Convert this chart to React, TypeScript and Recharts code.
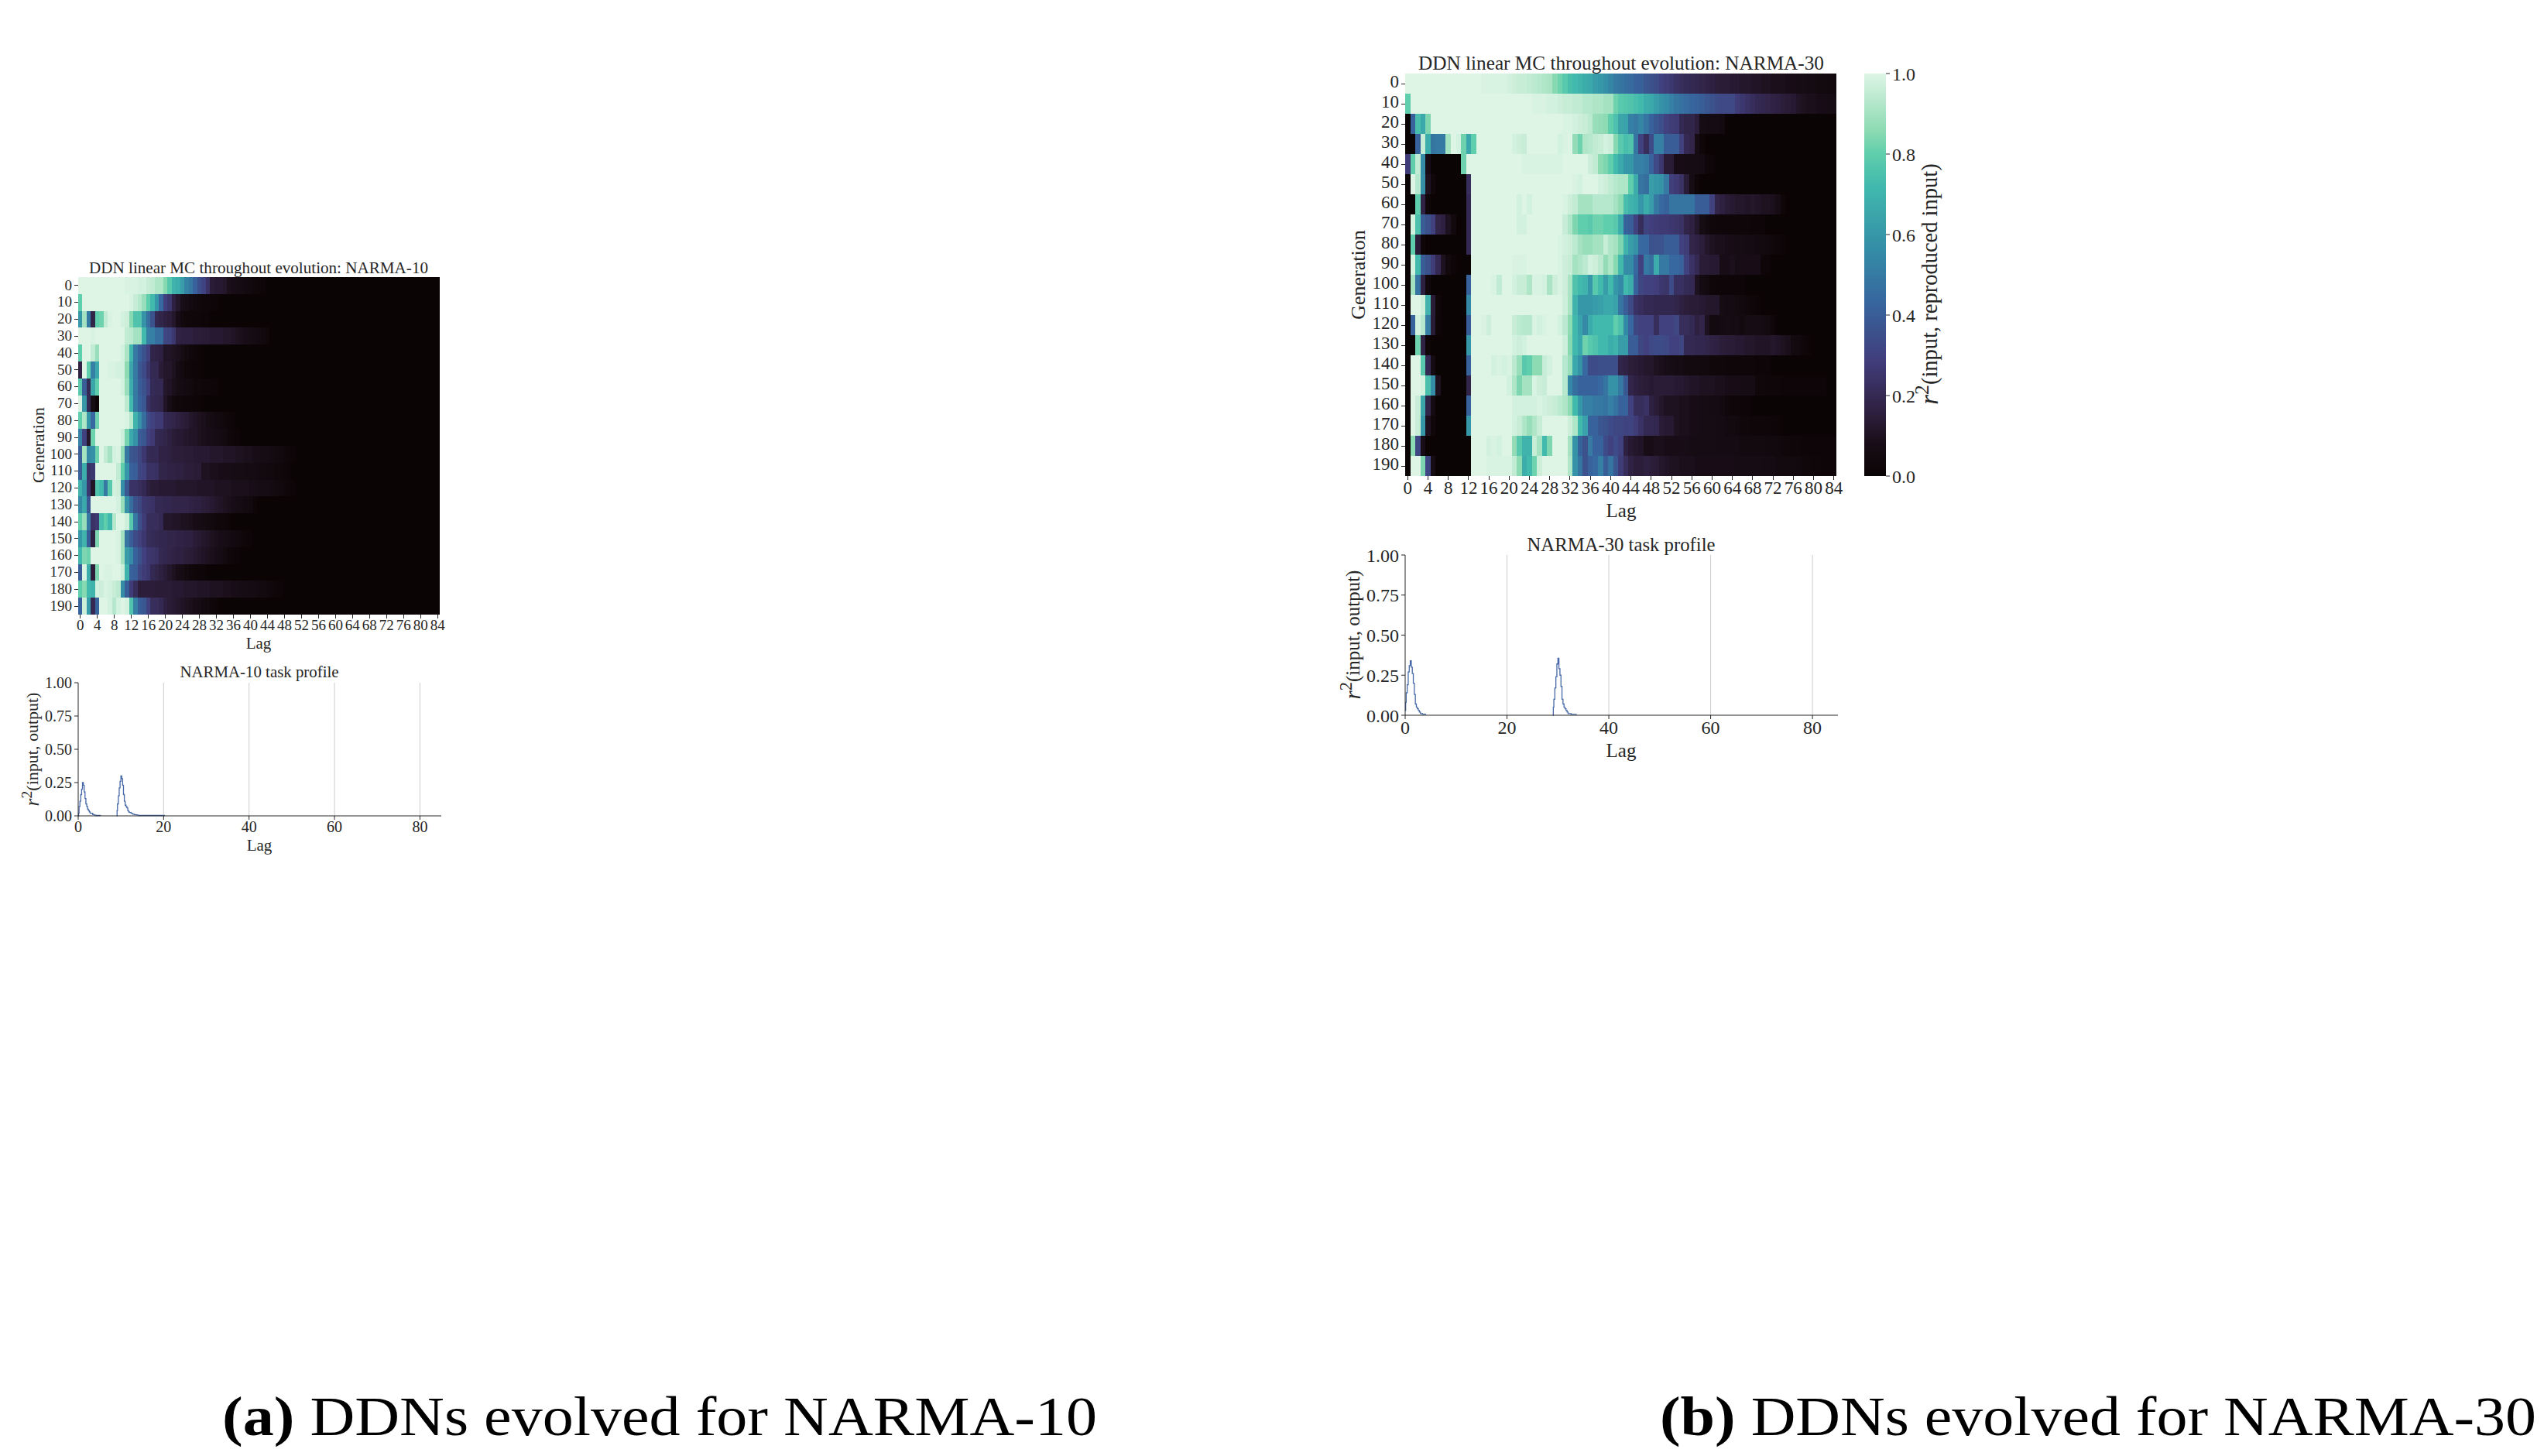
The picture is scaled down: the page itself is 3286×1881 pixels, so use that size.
import React from "react";
import { BarChart, Bar, Cell, XAxis, YAxis, LineChart, Line, ReferenceLine } from "recharts";

const FONT = "'Liberation Serif', serif";
const INK = "#262626";

const generations = [0, 10, 20, 30, 40, 50, 60, 70, 80, 90, 100, 110, 120, 130, 140, 150, 160, 170, 180, 190];
const heatTicks = [0, 4, 8, 12, 16, 20, 24, 28, 32, 36, 40, 44, 48, 52, 56, 60, 64, 68, 72, 76, 80, 84];

// r^2 in percent per lag; lags past the end of a list read as 0 (black)
const narma10Rows: number[][] = [
  [100,100,100,100,100,100,100,100,100,100,100,99,99,99,98,98,96,95,92,92,85,78,70,68,62,53,49,42,35,31,24,14,13,13,12,9,8,7,6,5,4,3,2,1],
  [80,100,100,100,100,100,100,100,100,100,100,100,99,96,93,88,80,72,60,44,30,26,16,12,8,7,5,4,3,2,2,1,1],
  [60,90,50,18,80,82,95,99,100,100,98,97,85,76,76,58,46,36,20,18,16,15,12,8,4,3,3,2,2,1,1],
  [100,100,100,99,100,100,100,100,100,100,100,95,94,90,90,72,52,52,46,46,32,31,26,17,16,16,16,15,15,14,14,13,13,13,12,12,11,10,9,8,7,6,5,4,3],
  [80,100,100,95,88,100,100,100,100,100,98,91,71,50,42,36,30,18,17,16,11,11,10,9,7,5,3,2,1],
  [17,100,80,52,66,100,100,99,99,98,98,86,65,50,38,34,26,20,20,14,12,12,10,6,5,3,2,1,1],
  [78,40,20,65,80,100,100,100,100,100,98,88,68,50,40,36,30,21,20,20,12,11,9,7,6,5,4,3,3,2,2,1,1],
  [99,60,20,7,1,100,100,100,100,100,100,94,72,50,42,38,24,20,19,18,11,8,4,3,3,2,2,1,1],
  [80,92,60,44,82,100,100,100,100,100,100,99,93,70,58,46,34,30,27,27,20,19,18,16,15,14,12,11,10,9,7,6,5,4,3,2,1],
  [52,30,12,82,100,100,100,100,100,100,97,83,66,58,40,38,30,27,20,19,18,16,14,13,13,12,11,11,10,9,8,8,7,6,5,3,2,1],
  [40,90,55,57,82,100,95,90,98,99,87,50,38,36,32,26,21,20,20,17,17,16,15,15,15,14,14,13,13,13,13,12,12,12,11,11,11,10,10,9,9,8,8,7,7,6,5,4,3,2,1],
  [40,68,24,26,100,100,100,100,100,95,80,60,42,40,32,30,24,24,23,18,18,17,17,16,16,15,15,14,14,10,10,9,9,8,8,8,7,7,7,6,6,6,5,5,4,4,3,3,2,1],
  [70,60,26,11,76,72,50,78,98,97,57,38,24,24,22,20,16,14,14,13,13,13,13,12,12,12,12,12,11,11,11,11,10,10,10,10,9,9,9,9,8,8,7,7,7,6,5,4,3,2,1],
  [55,66,38,100,100,100,100,100,100,98,88,58,46,36,32,26,25,24,20,20,19,19,18,18,18,18,17,16,16,15,14,13,12,11,10,9,8,7,6,5,4,2],
  [80,88,50,24,26,74,80,72,93,100,100,97,78,50,36,28,22,22,22,20,12,12,11,11,10,10,9,8,7,6,5,4,3,3,2,1],
  [60,70,40,16,84,100,100,100,100,99,90,48,40,34,30,26,22,21,20,19,19,18,18,17,17,16,16,14,13,12,11,10,9,8,7,6,5,4,3,2,1],
  [72,84,82,100,100,100,100,100,100,99,90,62,56,42,36,30,26,25,24,20,19,18,17,16,16,15,14,13,12,11,10,9,8,7,5,3,2,1],
  [40,99,68,15,84,100,99,99,100,100,97,70,42,40,32,28,26,20,18,16,14,12,10,8,7,5,3,2,1,1],
  [80,85,72,70,98,97,99,98,96,94,56,40,28,22,15,15,15,15,14,14,14,14,13,13,13,12,12,12,11,11,11,10,10,10,9,9,8,8,7,7,6,6,5,5,4,3,2,1],
  [42,97,62,20,42,100,100,98,93,98,100,98,76,52,40,38,30,22,22,20,16,14,13,12,11,10,9,8,7,5,4,2,1],
];

const narma30Rows: number[][] = [
  [100,100,100,100,100,100,100,100,100,100,100,100,100,100,100,99,99,99,99,99,98,97,96,96,95,94,93,92,91,85,82,78,74,72,70,68,66,62,60,57,54,50,48,46,45,42,41,38,36,34,30,28,26,24,22,21,20,19,18,17,16,15,14,14,13,13,12,12,11,11,10,10,9,9,9,8,8,7,7,6,6,5,5,4,4],
  [80,100,100,100,100,100,100,100,100,100,100,100,100,100,100,100,100,100,100,100,100,100,100,100,100,99,99,99,98,98,97,96,96,95,95,93,93,92,92,90,90,82,78,77,76,74,72,68,66,62,58,56,52,49,47,45,43,42,40,38,36,34,33,33,33,28,26,24,22,20,19,18,17,16,15,14,13,11,10,9,9,8,8,7,7],
  [0,42,74,66,84,100,100,100,100,100,100,100,100,100,100,100,100,100,100,100,100,100,100,100,100,100,100,100,100,100,100,99,99,98,97,96,94,88,87,86,80,75,65,64,52,50,54,48,42,38,35,30,28,27,20,18,18,15,7,6,6,6,5],
  [0,0,42,96,68,48,50,50,90,100,98,82,66,80,100,100,100,100,100,100,100,98,97,96,100,100,100,100,100,100,98,99,100,87,82,92,93,95,96,98,97,85,78,74,76,48,30,22,34,52,52,40,40,40,30,20,18,7,2],
  [28,80,95,56,8,0,0,0,0,0,0,82,100,100,100,100,100,100,100,100,100,100,100,99,99,99,99,99,99,99,99,100,100,100,100,100,97,95,86,84,80,72,66,60,60,52,52,50,42,33,26,14,14,8,8,7,7,7,6,2,1],
  [0,100,93,57,10,3,0,0,0,0,0,0,22,100,100,100,100,100,100,100,100,100,100,100,100,100,100,100,100,100,100,100,100,99,98,100,100,100,98,97,95,93,92,92,80,68,48,46,62,60,58,50,29,27,24,14,7,2],
  [0,0,80,17,3,0,0,0,0,0,0,0,20,100,100,100,100,100,100,100,100,100,98,100,98,100,100,100,100,100,100,99,97,95,90,90,90,93,93,93,93,90,86,74,70,68,60,68,62,50,44,42,48,48,48,48,48,40,40,40,30,18,16,14,13,12,12,11,12,11,10,10,9,7,2],
  [0,98,75,40,36,30,18,16,10,4,0,0,20,100,100,100,100,100,100,100,100,100,98,98,100,100,100,100,100,100,100,96,92,84,80,80,78,82,82,80,80,78,68,42,40,30,22,31,29,28,27,27,26,25,24,18,16,12,7,5,3,2,2,2,2,2,2,2,1,1,1],
  [0,80,14,2,0,0,0,0,0,0,0,0,20,100,100,100,100,100,100,100,100,100,100,100,100,100,100,100,100,100,99,98,97,94,90,88,88,90,90,96,92,90,84,70,62,58,44,44,36,36,37,40,40,40,30,28,18,17,15,12,10,9,9,8,8,7,7,6,6,5,5,4,3,2,1],
  [0,98,72,40,36,28,20,10,4,1,0,0,0,100,100,100,100,100,100,100,100,99,99,99,100,100,100,100,100,100,99,97,96,90,92,94,98,97,94,87,92,85,72,56,56,44,30,50,46,68,50,50,44,44,42,30,24,20,14,14,13,13,8,8,9,7,8,8,8,8,2,1],
  [0,90,48,16,4,0,0,0,0,0,0,0,42,100,100,100,100,99,95,100,100,98,96,96,92,99,99,98,91,97,99,97,91,76,72,70,60,78,72,62,72,60,55,72,68,42,32,30,30,29,26,25,34,23,23,21,20,10,6,5,2,1,1,1,1,1,1],
  [0,100,100,97,70,14,3,0,0,0,0,0,55,100,100,100,100,100,100,100,100,100,100,100,100,100,100,100,100,100,100,97,91,70,60,60,60,62,63,66,66,64,48,40,33,24,22,20,20,19,19,19,19,18,16,15,14,14,13,12,12,12,7,6,6,5,4,3,2,1],
  [0,42,98,93,52,14,2,0,0,0,0,0,40,100,100,99,97,100,100,100,100,96,94,93,93,99,98,99,100,100,98,94,86,72,64,55,67,72,72,72,72,80,75,55,44,32,30,30,30,22,30,30,30,32,22,22,20,16,18,10,4,5,6,7,6,6,5,7,7,7,6,5,3],
  [0,0,82,17,2,0,0,0,0,0,0,0,60,100,100,100,100,100,100,100,100,98,97,98,100,100,100,100,100,100,100,97,85,72,66,82,78,76,72,72,68,70,62,62,40,40,32,30,33,34,34,33,30,30,32,20,20,19,19,18,17,16,15,14,14,13,13,12,12,11,11,11,12,11,10,9,5,4,2,1],
  [0,100,100,78,20,6,0,0,0,0,0,0,42,100,100,100,100,98,99,98,99,94,88,78,80,86,86,96,98,100,100,93,88,66,58,44,34,34,35,35,35,35,18,17,15,14,13,12,12,10,9,8,7,6,6,5,5,5,4,4,3,3,3,2,2,2,2,2,2,1,1,1],
  [0,100,100,98,74,56,10,0,0,0,0,0,18,100,100,100,100,100,100,100,98,92,84,90,90,99,97,96,100,100,100,93,55,46,42,42,42,42,44,48,58,58,50,38,18,16,15,14,13,14,14,14,14,13,13,12,11,11,10,10,10,9,9,8,8,8,7,7,7,3,3,2,2,2,1,1,1,1,1,1,1,1,1],
  [0,100,96,65,18,6,0,0,0,0,0,0,42,100,100,100,100,100,100,100,100,98,98,98,98,98,99,98,97,96,94,92,86,72,60,52,52,50,50,48,52,48,42,42,30,22,22,24,16,14,12,10,10,10,9,9,8,8,7,7,6,6,5,3,2,2,1,1],
  [0,100,96,60,10,3,0,0,0,0,0,0,60,100,100,100,100,100,100,100,100,98,96,92,88,92,96,100,100,100,100,100,97,92,72,64,42,42,38,36,34,32,32,31,31,28,24,20,20,19,14,13,13,10,9,9,8,8,7,7,7,6,6,5,5,4,3,3,2,2,2,2,1,1],
  [0,86,32,8,0,0,0,0,0,0,0,0,0,100,100,100,98,99,98,100,100,87,78,70,70,96,90,72,84,100,100,100,90,58,42,36,50,42,42,34,30,34,30,16,13,12,11,8,8,9,9,8,8,8,8,8,7,7,7,7,7,6,6,6,6,6,5,5,5,5,5,4,4,4,3,3,2,2,1,1,1,1,1,1,1],
  [0,100,100,84,32,7,0,0,0,0,0,0,0,100,100,100,99,99,99,99,99,95,86,68,72,82,97,100,100,100,100,100,92,58,48,36,42,44,52,40,48,38,28,22,17,15,15,16,15,14,12,11,10,10,9,9,9,8,8,8,8,8,8,8,8,7,7,7,7,7,6,6,6,5,5,5,4,4,3,3,2,2,1,1,1],
];

const narma10Lags = [0,0.1,0.2,0.4,0.6,0.8,1,1.2,1.4,1.6,1.8,2,2.2,2.4,2.6,2.8,3,3.4,3.8,4.2,5.2,5.3,9,9.1,9.2,9.4,9.6,9.8,10,10.2,10.4,10.6,10.8,11,11.2,11.4,11.6,11.8,12,12.4,12.8,13.2,13.8,14.2,20.2];
const narma10R2: (number | null)[] = [0,0.02,0.07,0.11,0.16,0.2,0.25,0.23,0.18,0.13,0.09,0.07,0.05,0.04,0.03,0.02,0.02,0.01,0.005,0.003,0.002,null,0,0.04,0.09,0.15,0.21,0.26,0.3,0.28,0.23,0.16,0.11,0.08,0.07,0.06,0.04,0.03,0.025,0.018,0.012,0.008,0.005,0.003,0.002];
const narma30Lags = [0,0.1,0.2,0.4,0.6,0.8,1,1.2,1.4,1.6,1.8,2,2.2,2.4,2.6,2.8,3,3.4,4,4.1,29,29.1,29.2,29.4,29.6,29.8,30,30.2,30.4,30.6,30.8,31,31.2,31.4,31.6,31.8,32,32.6,33.6];
const narma30R2: (number | null)[] = [0.03,0.08,0.14,0.19,0.27,0.31,0.34,0.3,0.26,0.2,0.13,0.07,0.05,0.04,0.03,0.02,0.01,0.007,0.003,null,0,0.05,0.1,0.17,0.24,0.32,0.355,0.29,0.25,0.18,0.1,0.07,0.05,0.04,0.03,0.02,0.01,0.005,0.003];

const profileXTicks = [0, 20, 40, 60, 80];
const profileGridLags = [20, 40, 60, 80];
const profileYTicks = [0, 0.25, 0.5, 0.75, 1];
const colorbarTicks = [0, 0.2, 0.4, 0.6, 0.8, 1];

const makoStops: [number, string][] = [
  [0, "#0b0405"], [0.08, "#180d16"], [0.143, "#2b1c38"], [0.286, "#413d7b"], [0.429, "#37659e"], [0.571, "#348fa7"],
  [0.714, "#40b7ad"], [0.8, "#5fceac"], [0.857, "#8bdab2"], [1, "#def5e5"],
];

const rgb = (h: string) => [1, 3, 5].map((i) => parseInt(h.slice(i, i + 2), 16));
function mako(v: number): string {
  for (let i = 1; i < makoStops.length; i++) {
    const [b, cb] = makoStops[i];
    if (v <= b) {
      const [a, ca] = makoStops[i - 1];
      const t = (v - a) / (b - a);
      const A = rgb(ca), B = rgb(cb);
      return `rgb(${A.map((x, k) => Math.round(x + (B[k] - x) * t)).join(",")})`;
    }
  }
  return makoStops[makoStops.length - 1][1];
}

const LAGS = Array.from({ length: 85 }, (_, i) => i);

function Heat({ rows, left, top, w, h, font, labelShift }: { rows: number[][]; left: number; top: number; w: number; h: number; font: number; labelShift: number }) {
  const yW = 70, mT = 20, mR = 30, xH = 40;
  const data = generations.map((gen) => {
    const o: Record<string, number> = { gen };
    LAGS.forEach((l) => (o[`l${l}`] = 1));
    return o;
  });
  const tick = { fill: INK, fontSize: font, fontFamily: FONT };
  return (
    <div style={{ position: "absolute", left: left - yW, top: top - mT, shapeRendering: "crispEdges" }}>
      <BarChart
        width={yW + w + mR}
        height={mT + h + xH}
        data={data}
        layout="vertical"
        margin={{ top: mT, right: mR, left: 0, bottom: 0 }}
        barCategoryGap={0}
        barGap={0}
      >
        <XAxis
          type="number"
          domain={[0, 85]}
          ticks={heatTicks.map((t) => t + 0.5)}
          tickFormatter={(t: number) => String(t - 0.5)}
          interval={0}
          height={xH}
          axisLine={false}
          tickSize={5}
          tickMargin={2}
          tickLine={{ stroke: INK, strokeWidth: 1 }}
          tick={tick}
        />
        <YAxis
          type="category"
          dataKey="gen"
          width={yW}
          interval={0}
          axisLine={false}
          tickSize={5}
          tickMargin={3}
          tickLine={{ stroke: INK, strokeWidth: 1 }}
          tick={{ ...tick, dy: labelShift }}
        />
        {LAGS.map((l) => (
          <Bar key={l} dataKey={`l${l}`} stackId="h" isAnimationActive={false}>
            {rows.map((r, i) => (
              <Cell key={i} fill={mako((r[l] ?? 0) / 100)} />
            ))}
          </Bar>
        ))}
      </BarChart>
    </div>
  );
}

function Profile({ lags, r2, left, top, w, h, font }: { lags: number[]; r2: (number | null)[]; left: number; top: number; w: number; h: number; font: number }) {
  const yW = 70, mT = 20, mR = 30, xH = 40;
  const data = lags.map((lag, i) => ({ lag, r2: r2[i] }));
  const tick = { fill: INK, fontSize: font, fontFamily: FONT };
  return (
    <div style={{ position: "absolute", left: left - yW, top: top - mT }}>
      <LineChart width={yW + w + mR} height={mT + h + xH} data={data} margin={{ top: mT, right: mR, left: 0, bottom: 0 }}>
        <XAxis
          type="number"
          dataKey="lag"
          domain={[0, 85]}
          ticks={profileXTicks}
          interval={0}
          height={xH}
          tickSize={5}
          tickMargin={2}
          axisLine={{ stroke: INK, strokeWidth: 1 }}
          tickLine={{ stroke: INK, strokeWidth: 1 }}
          tick={tick}
        />
        <YAxis
          type="number"
          domain={[0, 1]}
          ticks={profileYTicks}
          tickFormatter={(t: number) => t.toFixed(2)}
          interval={0}
          width={yW}
          tickSize={5}
          tickMargin={3}
          axisLine={{ stroke: INK, strokeWidth: 1 }}
          tickLine={{ stroke: INK, strokeWidth: 1 }}
          tick={tick}
        />
        {profileGridLags.map((g) => (
          <ReferenceLine key={g} x={g} stroke="#cccccc" strokeWidth={1} />
        ))}
        <Line type="stepAfter" dataKey="r2" stroke="#4668a8" strokeWidth={1.3} dot={false} connectNulls={false} isAnimationActive={false} />
      </LineChart>
    </div>
  );
}

function Colorbar({ left, top, w, h, font }: { left: number; top: number; w: number; h: number; font: number }) {
  const yW = 60, mT = 15;
  return (
    <div style={{ position: "absolute", left, top: top - mT }}>
      <BarChart width={w + yW} height={h + 2 * mT} data={[{ c: "bar", v: 1 }]} margin={{ top: mT, right: 0, left: 0, bottom: mT }} barCategoryGap={0}>
        <defs>
          <linearGradient id="makoBar" x1="0" y1="1" x2="0" y2="0">
            {makoStops.map(([v, c]) => (
              <stop key={v} offset={`${v * 100}%`} stopColor={c} />
            ))}
          </linearGradient>
        </defs>
        <XAxis dataKey="c" hide />
        <YAxis
          orientation="right"
          type="number"
          domain={[0, 1]}
          ticks={colorbarTicks}
          tickFormatter={(t: number) => t.toFixed(1)}
          interval={0}
          width={yW}
          axisLine={false}
          tickSize={5}
          tickMargin={3}
          tickLine={{ stroke: INK, strokeWidth: 1 }}
          tick={{ fill: INK, fontSize: font, fontFamily: FONT }}
        />
        <Bar dataKey="v" fill="url(#makoBar)" isAnimationActive={false} />
      </BarChart>
    </div>
  );
}

const T = ({ x, y, size, len, rot, children }: { x: number; y: number; size: number; len?: number; rot?: boolean; children: React.ReactNode }) => (
  <text
    x={x}
    y={y}
    fontSize={size}
    fontFamily={FONT}
    fill={INK}
    textAnchor="middle"
    dominantBaseline="middle"
    transform={rot ? `rotate(-90 ${x} ${y})` : undefined}
    {...(len ? { textLength: len, lengthAdjust: "spacingAndGlyphs" } : {})}
  >
    {children}
  </text>
);

const RLabel = ({ x, y, size, rest }: { x: number; y: number; size: number; rest: string }) => (
  <T x={x} y={y} size={size} rot>
    <tspan fontStyle="italic" fontSize={size * 1.15}>r</tspan>
    <tspan dy={-size * 0.35} fontSize={size * 0.9}>2</tspan>
    <tspan dy={size * 0.35}>{rest}</tspan>
  </T>
);

export default function App() {
  return (
    <div style={{ position: "absolute", left: 0, top: 0, width: 3286, height: 1881, background: "#fff", overflow: "hidden" }}>
      <Heat rows={narma10Rows} left={101} top={358} w={467} h={436} font={19} labelShift={-1} />
      <Profile lags={narma10Lags} r2={narma10R2} left={101} top={882} w={469} h={172} font={20} />
      <Heat rows={narma30Rows} left={1815} top={95} w={557} h={520} font={23} labelShift={-3} />
      <Colorbar left={2408} top={95} w={28} h={520} font={24} />
      <Profile lags={narma30Lags} r2={narma30R2} left={1815} top={717} w={559} h={207} font={24} />
      <svg width={3286} height={1881} style={{ position: "absolute", left: 0, top: 0, pointerEvents: "none" }}>
        <T x={334} y={348} size={21} len={438}>DDN linear MC throughout evolution: NARMA-10</T>
        <T x={334} y={833} size={21}>Lag</T>
        <T x={52} y={575} size={22} rot>Generation</T>
        <T x={335} y={870} size={21} len={205}>NARMA-10 task profile</T>
        <T x={335} y={1094} size={21}>Lag</T>
        <RLabel x={44} y={968} size={22} rest="(input, output)" />
        <T x={2094} y={84} size={25} len={524}>DDN linear MC throughout evolution: NARMA-30</T>
        <T x={2094} y={662} size={25}>Lag</T>
        <T x={1757} y={355} size={26} rot>Generation</T>
        <T x={2094} y={706} size={25} len={243}>NARMA-30 task profile</T>
        <T x={2094} y={972} size={25}>Lag</T>
        <RLabel x={1750} y={820} size={25} rest="(input, output)" />
        <RLabel x={2495} y={367} size={28.5} rest="(input, reproduced input)" />
        <text x={287} y={1854} fontSize={72} fontFamily={FONT} fill="#000" textLength={1130} lengthAdjust="spacingAndGlyphs">
          <tspan fontWeight="bold">(a)</tspan> DDNs evolved for NARMA-10
        </text>
        <text x={2144} y={1854} fontSize={72} fontFamily={FONT} fill="#000" textLength={1132} lengthAdjust="spacingAndGlyphs">
          <tspan fontWeight="bold">(b)</tspan> DDNs evolved for NARMA-30
        </text>
      </svg>
    </div>
  );
}
